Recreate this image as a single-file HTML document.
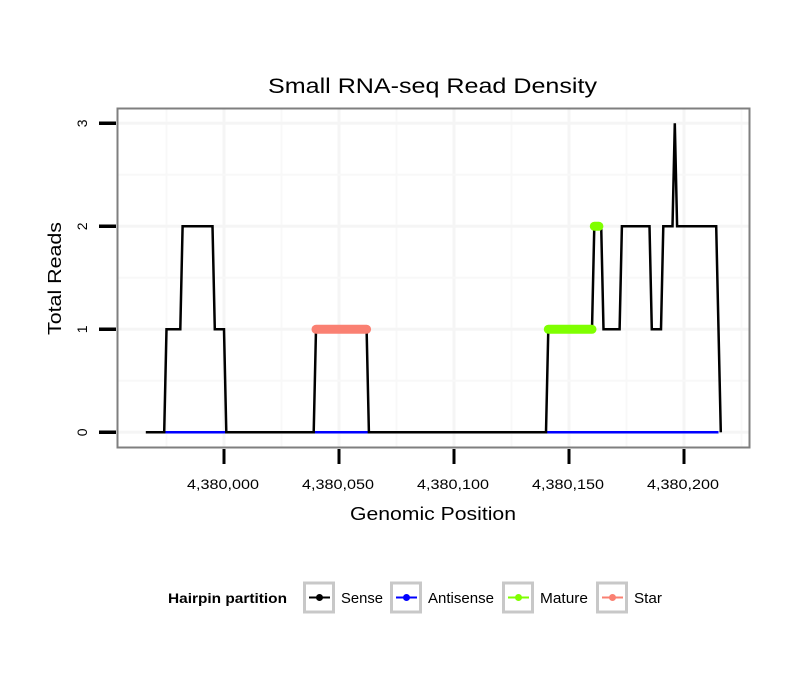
<!DOCTYPE html>
<html><head><meta charset="utf-8"><style>
html,body{margin:0;padding:0;background:#fff;}
svg text{font-family:"Liberation Sans",sans-serif;}
</style></head><body>
<svg id="chart" width="810" height="690" xmlns="http://www.w3.org/2000/svg">
<rect width="810" height="690" fill="#fff"/>
<text x="268" y="93" font-size="21" textLength="329" lengthAdjust="spacingAndGlyphs">Small RNA-seq Read Density</text>
<g id="grid"></g>
<g id="series"></g>
<rect x="117.5" y="108.5" width="632" height="339" fill="none" stroke="#7f7f7f" stroke-width="2"/>
<g id="axes"></g>
<text x="350" y="520" font-size="18" textLength="166" lengthAdjust="spacingAndGlyphs">Genomic Position</text>
<text transform="translate(61,335) rotate(-90)" font-size="18" textLength="113" lengthAdjust="spacingAndGlyphs">Total Reads</text>
<g id="legend">
<text x="168" y="603" font-size="14" font-weight="bold" textLength="119" lengthAdjust="spacingAndGlyphs">Hairpin partition</text>
</g>
</svg>
<script>
const xTicks=[4380000,4380050,4380100,4380150,4380200];
const xTickLabels=["4,380,000","4,380,050","4,380,100","4,380,150","4,380,200"];
const yTicks=[0,1,2,3];
const senseStart=4379966;
const senseValues=[0,0,0,0,0,0,0,0,0, 1,1,1,1,1,1,1, 2,2,2,2,2,2,2,2,2,2,2,2,2,2, 1,1,1,1,1,
0,0,0,0,0,0,0,0,0,0,0,0,0,0,0,0,0,0,0,0,0,0,0,0,0,0,0,0,0,0,0,0,0,0,0,0,0,0,0,
1,1,1,1,1,1,1,1,1,1,1,1,1,1,1,1,1,1,1,1,1,1,1,
0,0,0,0,0,0,0,0,0,0,0,0,0,0,0,0,0,0,0,0,0,0,0,0,0,0,0,0,0,0,0,0,0,0,0,0,0,0,0,0,0,0,0,0,0,0,0,0,0,0,0,0,0,0,0,0,0,0,0,0,0,0,0,0,0,0,0,0,0,0,0,0,0,0,0,0,0,0,
1,1,1,1,1,1,1,1,1,1,1,1,1,1,1,1,1,1,1,1,
2,2,2,2,
1,1,1,1,1,1,1,1,
2,2,2,2,2,2,2,2,2,2,2,2,2,
1,1,1,1,1,
2,2,2,2,2,
3,
2,2,2,2,2,2,2,2,2,2,2,2,2,2,2,2,2,2,
1,0];
const antisenseStart=4379974;
const antisenseEnd=4380215;
const matureRanges=[[4380141,4380160,1],[4380161,4380163,2]];
const starRanges=[[4380040,4380062,1]];

const NS='http://www.w3.org/2000/svg';
const X=g=>224+(g-4380000)*2.3;
const Y=v=>432.3-v*103;
function mk(tag,attrs,parent){const e=document.createElementNS(NS,tag);for(const k in attrs)e.setAttribute(k,attrs[k]);parent.appendChild(e);return e;}
const grid=document.getElementById('grid'),ser=document.getElementById('series'),axes=document.getElementById('axes');
for(let i=0;i<xTicks.length;i++){
  const l=mk('line',{x1:X(xTicks[i]),x2:X(xTicks[i]),y1:109,y2:447,stroke:'#f5f5f5','stroke-width':3},grid);
  
  const m=xTicks[i]-25;
  const l2=mk('line',{x1:X(m),x2:X(m),y1:109,y2:447,stroke:'#f8f8f8','stroke-width':2},grid);
  
}
{const m=xTicks[xTicks.length-1]+25;const l2=mk('line',{x1:X(m),x2:X(m),y1:109,y2:447,stroke:'#f8f8f8','stroke-width':2},grid);
}
for(let i=0;i<yTicks.length;i++){
  const l=mk('line',{x1:118,x2:749,y1:Y(yTicks[i]),y2:Y(yTicks[i]),stroke:'#f5f5f5','stroke-width':3},grid);
  
  if(i<yTicks.length-1){const l2=mk('line',{x1:118,x2:749,y1:Y(yTicks[i]+0.5),y2:Y(yTicks[i]+0.5),stroke:'#f8f8f8','stroke-width':2},grid);
  }
}
const anti=mk('line',{x1:X(antisenseStart),x2:X(antisenseEnd),y1:Y(0),y2:Y(0),stroke:'#0000ff','stroke-width':2.5},ser);

const pts=senseValues.map((v,i)=>X(senseStart+i).toFixed(1)+','+Y(v).toFixed(1)).join(' ');
const sp=mk('polyline',{points:pts,fill:'none',stroke:'#000','stroke-width':2.5,'stroke-linejoin':'miter'},ser);

function highlight(r,color,name){
  const l=mk('line',{x1:X(r[0]),x2:X(r[1]),y1:Y(r[2]),y2:Y(r[2]),stroke:color,'stroke-width':9,'stroke-linecap':'round'},ser);
  
}
matureRanges.forEach(r=>highlight(r,'#7fff00','mature-segment'));
starRanges.forEach(r=>highlight(r,'#fa8072','star-segment'));
for(let i=0;i<xTicks.length;i++){
  const t=mk('line',{x1:X(xTicks[i]),x2:X(xTicks[i]),y1:449,y2:464,stroke:'#000','stroke-width':3},axes);
  
  const tx=mk('text',{x:X(xTicks[i])-37,y:489,'font-size':14,textLength:72,lengthAdjust:'spacingAndGlyphs'},axes);
  tx.textContent=xTickLabels[i];
  
}
for(let i=0;i<yTicks.length;i++){
  const t=mk('line',{x1:99,x2:116,y1:Y(yTicks[i]),y2:Y(yTicks[i]),stroke:'#000','stroke-width':3.5},axes);
  
  const tx=mk('text',{transform:`translate(87,${Y(yTicks[i])}) rotate(-90)`,'font-size':14,'text-anchor':'middle'},axes);
  tx.textContent=String(yTicks[i]);
  
}
const legNames=['Sense','Antisense','Mature','Star'];
const legColors=['#000','#0000ff','#7fff00','#fa8072'];
const legBoxX=[303,390,502,596];
const legTextW=[42,66,48,28];
const lg=document.getElementById('legend');
for(let i=0;i<4;i++){
  const g=mk('g',{},lg);
  
  mk('rect',{x:legBoxX[i]+1.5,y:583,width:29,height:29,fill:'#fff',stroke:'#c8c8c8','stroke-width':3},g);
  mk('line',{x1:legBoxX[i]+6,x2:legBoxX[i]+27,y1:597.5,y2:597.5,stroke:legColors[i],'stroke-width':2},g);
  mk('circle',{cx:legBoxX[i]+16.5,cy:597.5,r:3.5,fill:legColors[i]},g);
  const t=mk('text',{x:legBoxX[i]+38,y:603,'font-size':15,textLength:legTextW[i],lengthAdjust:'spacingAndGlyphs'},g);t.textContent=legNames[i];
}
</script>
</body></html>
